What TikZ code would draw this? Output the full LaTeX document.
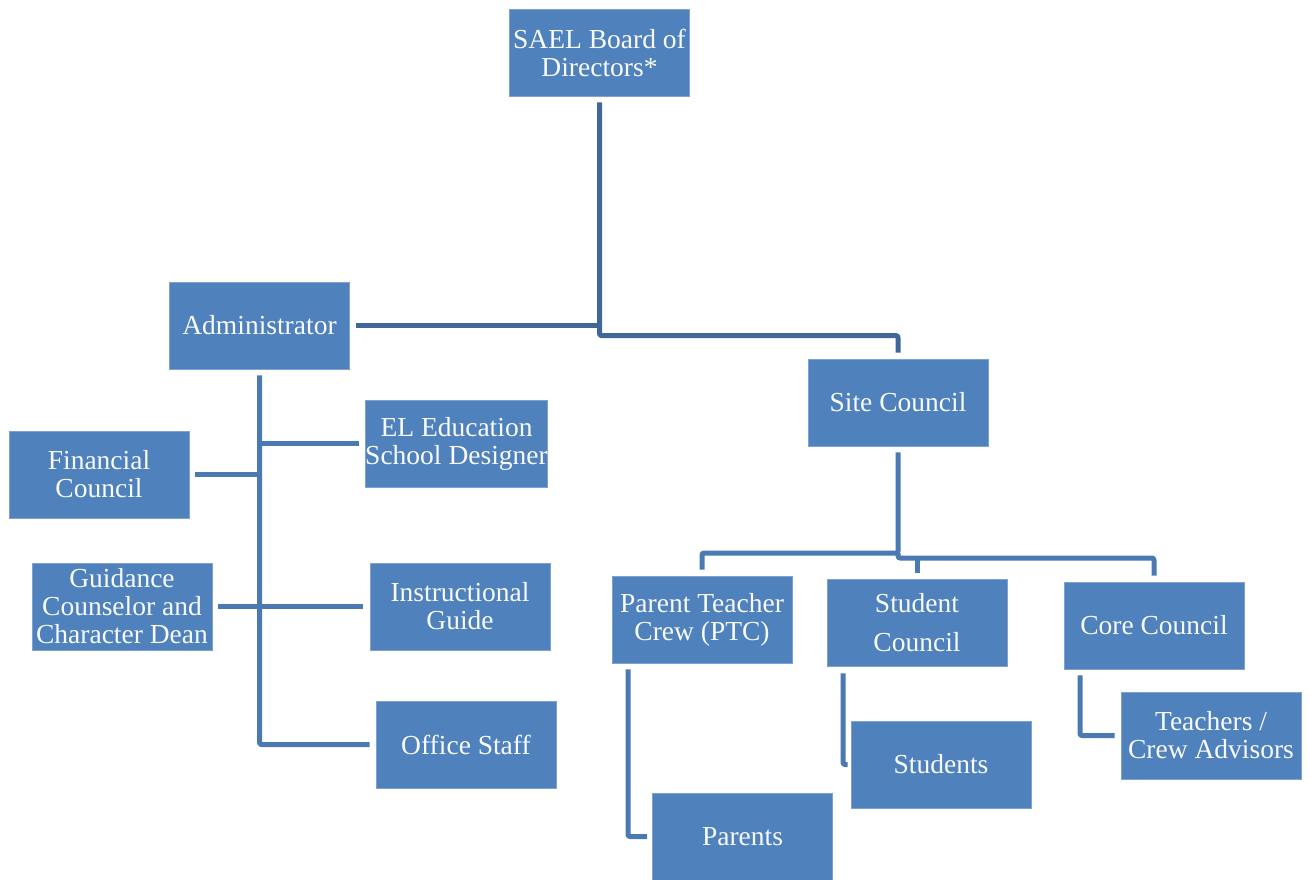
\documentclass[tikz,border=0pt]{standalone}
\usepackage{fontspec}
\setmainfont{Liberation Serif}
\usepackage{xcolor}
\definecolor{boxblue}{HTML}{4F81BD}
\definecolor{boxedge}{HTML}{7FA2D2}
\definecolor{trunkblue}{HTML}{40669A}
\definecolor{branchblue}{HTML}{4A79B3}
\usetikzlibrary{calc}

\begin{document}
\begin{tikzpicture}[x=1pt, y=-1pt,
  org/.style={fill=boxblue, draw=boxedge, line width=0.8pt, minimum width=180pt, minimum height=87pt,
    inner sep=0pt, align=center, text=white!96!boxblue, font=\fontsize{27.5}{28}\selectfont},
  trunk/.style={draw=trunkblue, line width=5pt, line join=round, rounded corners=2pt},
  branch/.style={draw=branchblue, line width=5pt, line join=round, rounded corners=2pt}]
\useasboundingbox (0,0) rectangle (1309,880);
\foreach \nm/\x/\y/\txt in {board/599.5/52.5/{SAEL Board of\\Directors*}, admin/259.5/325.5/{Administrator},
  site/898/402.5/{Site Council}, el/456.5/443.5/{EL Education\\School Designer}, fin/99/474.5/{Financial\\Council},
  guid/122/606.5/{Guidance\\Counselor and\\Character Dean}, instr/460/606.5/{Instructional\\Guide},
  office/466/744.5/{Office Staff}, ptc/702/619.5/{Parent Teacher\\Crew (PTC)}, stuc/917/622.5/{Student\\[11pt]Council},
  core/1154/625.5/{Core Council}, teach/1211/735.5/{Teachers /\\Crew Advisors}, stud/941/764.5/{Students},
  par/742.5/836.5/{Parents}}{
\node[org] (\nm) at (\x,\y) {\txt};
}
% board to administrator and site council
\draw[trunk] ([yshift=-6pt]board.south) |- ([yshift=23pt]site.north) -- ([yshift=6pt]site.north);
\draw[trunk] ([xshift=6pt]admin.east) -- (admin.east -| board.south);
% administrator's staff
\draw[branch] ([yshift=-6pt]admin.south) |- ([xshift=-6pt]office.west);
\draw[branch] (admin.south |- el.west) -- ([xshift=-6pt]el.west);
\draw[branch] ([xshift=6pt]fin.east) -- (fin.east -| admin.south);
\draw[branch] ([xshift=6pt]guid.east) -- ([xshift=-7pt]instr.west);
% site council's councils
\coordinate (jsite) at (898,553);
\coordinate (jlow) at (898,558);
\draw[branch] ([yshift=-6pt]site.south) -- (jsite) -| ([yshift=6pt]ptc.north);
\draw[branch] (jsite) -- (jlow) -| ([yshift=6pt]core.north);
\draw[branch] (stuc.north |- jlow) -- ([yshift=6pt]stuc.north);
% members
\draw[branch] ([xshift=-74pt,yshift=-6pt]ptc.south) |- ([xshift=-5pt]par.west);
\draw[branch] ([xshift=-74pt,yshift=-7pt]stuc.south) |- ([xshift=-3pt]stud.west);
\draw[branch] ([xshift=-74pt,yshift=-6pt]core.south) |- ([xshift=-6pt]teach.west);
\end{tikzpicture}
\end{document}
